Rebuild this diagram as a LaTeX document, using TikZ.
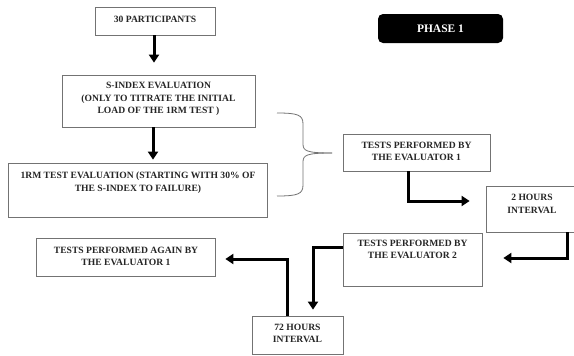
\documentclass[tikz,border=0pt]{standalone}
\usepackage{fontspec}
\setmainfont{Liberation Serif}
\usetikzlibrary{arrows.meta}
\begin{document}
\begin{tikzpicture}[x=1pt,y=-1pt,
  box/.style={draw=black!55, line width=0.7pt, inner sep=0pt, fill=white},
  lbl/.style={font=\bfseries\fontsize{9.6}{12.5}\selectfont, align=center, text=black!85, inner sep=0pt},
  arr/.style={line width=3pt, line join=miter, -{Triangle[length=8pt,width=10pt]}},
  brace/.style={draw=black!55, line width=0.8pt},
  phase/.style={fill=black, rounded corners=5pt, minimum width=125pt, minimum height=29pt, inner sep=0pt,
    text=white, font=\bfseries\fontsize{11.5}{13}\selectfont}
]
\useasboundingbox[fill=white] (0,0) rectangle (574,356);

% boxes
\node[box, minimum width=120pt, minimum height=28pt] (p30) at (155,21) {};
\node[box, minimum width=193pt, minimum height=52pt] (sidx) at (158.5,101) {};
\node[box, minimum width=259pt, minimum height=54pt] (rm) at (137.5,190) {};
\node[box, minimum width=147pt, minimum height=37pt] (ev1) at (416.5,152.5) {};
\node[box, minimum width=92pt, minimum height=46pt] (h2) at (532,209) {};
\node[box, minimum width=139pt, minimum height=53pt] (ev2) at (412.5,259.5) {};
\node[box, minimum width=179pt, minimum height=38pt] (again) at (125.5,257) {};
\node[box, minimum width=91pt, minimum height=38pt] (n72) at (297.5,335) {};
\node[phase] (ph) at (440.5,28.5) {PHASE 1};

% texts
\node[lbl] (p30t) at (155,19.5) {30 PARTICIPANTS};
\node[lbl] (sidxt) at (158.5,99) {S-INDEX EVALUATION\\(ONLY TO TITRATE THE INITIAL\\LOAD OF THE 1RM TEST )};
\node[lbl] (rmt) at (138,182.5) {1RM TEST EVALUATION (STARTING WITH 30\% OF\\THE S-INDEX TO FAILURE)};
\node[lbl] (ev1t) at (416.5,151.5) {TESTS PERFORMED BY\\THE EVALUATOR 1};
\node[lbl] (h2t) at (532,204) {2 HOURS\\INTERVAL};
\node[lbl] (ev2t) at (412.5,249.5) {TESTS PERFORMED BY\\THE EVALUATOR 2};
\node[lbl] (againt) at (126,256.5) {TESTS PERFORMED AGAIN BY\\THE EVALUATOR 1};
\node[lbl] (n72t) at (297.5,333.5) {72 HOURS\\INTERVAL};

% connectors
\draw[arr, shorten >=12pt] ([xshift=-1pt]p30.south) -- ([xshift=-1pt]p30.south |- sidx.north);
\draw[arr, shorten >=3pt] ([xshift=-5.5pt]sidx.south) -- ([xshift=-5.5pt]sidx.south |- rm.north);

\coordinate (k1) at (408,201);
\draw[arr, shorten >=16pt] (ev1.south -| k1) |- (h2.west |- k1);

\coordinate (k2) at (567,258);
\draw[arr, shorten >=21pt] (h2.south -| k2) |- (ev2.east |- k2);

\coordinate (k3) at (313,247);
\draw[arr, shorten >=6pt] (ev2.west |- k3) -| (k3 |- n72.north);

\coordinate (k4) at (287,259);
\draw[arr, shorten >=10pt] (n72.north -| k4) |- (again.east |- k4);

% brace
\coordinate (btip) at (332,153);
\draw[brace] (277,113) .. controls (298,113) and (303,115) .. (303,124) -- (303,144)
  .. controls (303,151) and (307,153) .. (btip);
\draw[brace] (btip) .. controls (307,153) and (303,155) .. (303,162) -- (303,185)
  .. controls (303,194) and (298,196) .. (277,196);
\end{tikzpicture}
\end{document}
